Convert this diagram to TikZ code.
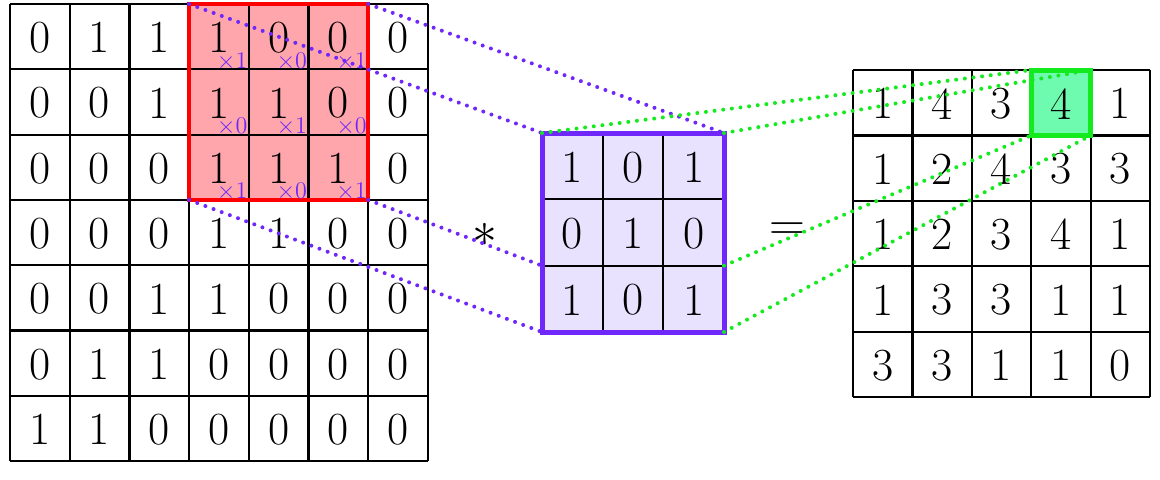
\documentclass[tikz,border=0pt]{standalone}
\usepackage{tikz}
\definecolor{redfill}{RGB}{255,165,172}
\definecolor{redline}{RGB}{255,0,0}
\definecolor{vio}{RGB}{112,40,250}
\definecolor{viofill}{RGB}{232,226,255}
\definecolor{grn}{RGB}{20,235,30}
\definecolor{grnfill}{RGB}{110,250,175}
\tikzset{
  gl/.style={draw=black, line width=1.1pt},
  num/.style={inner sep=0pt, font=\fontsize{23}{27}\selectfont},
  mult/.style={inner sep=0pt, text=vio, font=\fontsize{13}{15}\selectfont},
  sym/.style={inner sep=0pt, font=\fontsize{23}{27}\selectfont},
  redbox/.style={draw=redline, line width=2.2pt},
  kbox/.style={draw=vio, line width=2.5pt},
  gbox/.style={draw=grn, line width=2.5pt},
  pdots/.style={draw=vio, line width=2pt, line cap=round, dash pattern=on 0pt off 4.35pt},
  gdots/.style={draw=grn, line width=2pt, line cap=round, dash pattern=on 0pt off 4.35pt},
}
\begin{document}
\begin{tikzpicture}[x=0.5pt,y=-0.5pt]
\useasboundingbox (0,0) rectangle (1160,479);
% ---------- input grid ----------
\def\LX{10}\def\LY{4}\def\LW{59.7}\def\LH{65.3}
\fill[redfill] (\LX+3*\LW,\LY) rectangle (\LX+6*\LW,\LY+3*\LH);
\foreach \i in {0,...,7} \draw[gl] (\LX+\i*\LW,\LY) -- (\LX+\i*\LW,\LY+7*\LH);
\foreach \j in {0,...,7} \draw[gl] (\LX,\LY+\j*\LH) -- (\LX+7*\LW,\LY+\j*\LH);
\foreach \row [count=\r] in {{0,1,1,1,0,0,0},{0,0,1,1,1,0,0},{0,0,0,1,1,1,0},{0,0,0,1,1,0,0},{0,0,1,1,0,0,0},{0,1,1,0,0,0,0},{1,1,0,0,0,0,0}}{
  \foreach \v [count=\c] in \row {
    \node[num] (L-\r-\c) at (\LX+\c*\LW-0.5*\LW,\LY+\r*\LH-0.5*\LH+1) {\v};
  }
}
\coordinate (rtl) at (\LX+3*\LW,\LY);
\coordinate (rtr) at (\LX+6*\LW,\LY);
\coordinate (rbl) at (\LX+3*\LW,\LY+3*\LH);
\coordinate (rbr) at (\LX+6*\LW,\LY+3*\LH);
\draw[redbox] (rtl) rectangle (rbr);
\foreach \row [count=\r] in {{1,0,1},{0,1,0},{1,0,1}}{
  \foreach \v [count=\c] in \row {
    \node[mult] (M-\r-\c) at (\LX+2*\LW+\c*\LW+0.72*\LW,\LY+\r*\LH-0.12*\LH) {$\times\v$};
  }
}
% ---------- kernel ----------
\def\KX{542}\def\KY{133}\def\KW{60.67}\def\KH{66.33}
\fill[viofill] (\KX,\KY) rectangle (\KX+3*\KW,\KY+3*\KH);
\foreach \i in {1,2} \draw[gl] (\KX+\i*\KW,\KY) -- (\KX+\i*\KW,\KY+3*\KH);
\foreach \j in {1,2} \draw[gl] (\KX,\KY+\j*\KH) -- (\KX+3*\KW,\KY+\j*\KH);
\foreach \row [count=\r] in {{1,0,1},{0,1,0},{1,0,1}}{
  \foreach \v [count=\c] in \row {
    \node[num] (K-\r-\c) at (\KX+\c*\KW-0.5*\KW,\KY+\r*\KH-0.5*\KH+1) {\v};
  }
}
\coordinate (ktl) at (\KX,\KY);
\coordinate (ktr) at (\KX+3*\KW,\KY);
\coordinate (kml) at (\KX,\KY+2*\KH);
\coordinate (kmr) at (\KX+3*\KW,\KY+2*\KH);
\coordinate (kbl) at (\KX,\KY+3*\KH);
\coordinate (kbr) at (\KX+3*\KW,\KY+3*\KH);
\draw[kbox] (ktl) rectangle (kbr);
% ---------- output ----------
\def\OX{853}\def\OY{70}\def\OW{59.4}\def\OH{65.4}
\fill[grnfill] (\OX+3*\OW,\OY) rectangle (\OX+4*\OW,\OY+\OH);
\foreach \i in {0,...,5} \draw[gl] (\OX+\i*\OW,\OY) -- (\OX+\i*\OW,\OY+5*\OH);
\foreach \j in {0,...,5} \draw[gl] (\OX,\OY+\j*\OH) -- (\OX+5*\OW,\OY+\j*\OH);
\foreach \row [count=\r] in {{1,4,3,4,1},{1,2,4,3,3},{1,2,3,4,1},{1,3,3,1,1},{3,3,1,1,0}}{
  \foreach \v [count=\c] in \row {
    \node[num] (O-\r-\c) at (\OX+\c*\OW-0.5*\OW,\OY+\r*\OH-0.5*\OH+1) {\v};
  }
}
\coordinate (gtl) at (\OX+3*\OW,\OY);
\coordinate (gtr) at (\OX+4*\OW,\OY);
\coordinate (gbl) at (\OX+3*\OW,\OY+\OH);
\coordinate (gbr) at (\OX+4*\OW,\OY+\OH);
\draw[gbox] (gtl) rectangle (gbr);
% ---------- symbols ----------
\node[sym] (star) at (485,235) {$*$};
\node[sym] (eq) at (787,232) {$=$};
% ---------- connectors ----------
\draw[pdots] (rtl) -- (ktl);
\draw[pdots] (rtr) -- (ktr);
\draw[pdots] (rbl) -- (kbl);
\draw[pdots] (rbr) -- (kml);
\draw[gdots] (ktl) -- (gtl);
\draw[gdots] (ktr) -- (gtr);
\draw[gdots] (kmr) -- (gbl);
\draw[gdots] (kbr) -- (gbr);
\end{tikzpicture}
\end{document}
